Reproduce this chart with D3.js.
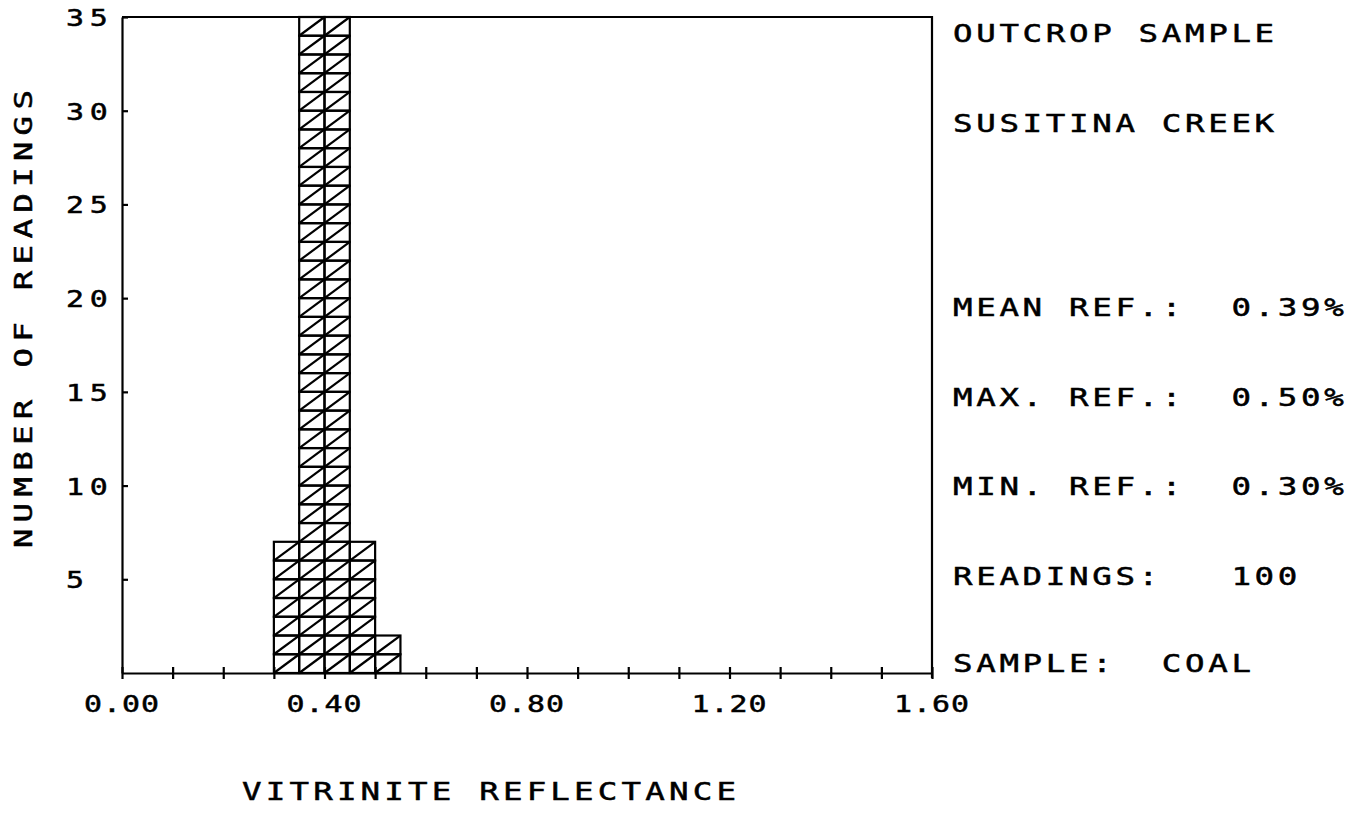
<!DOCTYPE html>
<html>
<head>
<meta charset="utf-8">
<script src="https://cdn.jsdelivr.net/npm/d3@7"></script>
<style>
  body { margin: 0; background: #fff; }
  text { font-family: 'DejaVu Sans Mono', 'Liberation Mono', monospace; fill: #000; stroke: #000; stroke-width: 0.5; white-space: pre; }
  .axis path, .axis line { stroke: #000; stroke-width: 2.2; }
</style>
</head>
<body>
<div id="chart"></div>
<script>
// histogram bins (reflectance %, bin start) and number of readings per bin
const binStarts = [0.30, 0.35, 0.40, 0.45, 0.50];
const binCounts = [7, 46, 38, 7, 2];
const binWidth = 0.05;

const yTicks = [5, 10, 15, 20, 25, 30, 35];
const xTicks = [0.0, 0.1, 0.2, 0.3, 0.4, 0.5, 0.6, 0.7, 0.8, 0.9, 1.0, 1.1, 1.2, 1.3, 1.4, 1.5, 1.6];
const xLabelTicks = [0.0, 0.4, 0.8, 1.2, 1.6];

const infoLines = [
  'OUTCROP SAMPLE',
  'SUSITINA CREEK',
  'MEAN REF.:  0.39%',
  'MAX. REF.:  0.50%',
  'MIN. REF.:  0.30%',
  'READINGS:   100',
  'SAMPLE:  COAL',
];

const width = 1356;
const height = 817;
const yMax = 35;
const infoX = 953;
const infoBaselines = [42, 132, 316, 406, 495, 585, 672];

const svg = d3.select('#chart')
  .append('svg')
  .attr('width', width)
  .attr('height', height);

svg.append('rect').attr('width', width).attr('height', height).attr('fill', '#fff');

const x = d3.scaleLinear().domain([0, 1.6]).range([122, 932]);
const y = d3.scaleLinear().domain([0, yMax]).range([673, 17]);

// plotter-style lettering: widened monospace glyphs on a fixed pitch
function plotText(parent, str, px, py, opts) {
  const o = Object.assign({ size: 25, sx: 1.3, ls: 2.8, anchor: 'start', rotate: 0 }, opts);
  return parent.append('text')
    .attr('xml:space', 'preserve')
    .attr('transform', `translate(${px},${py}) rotate(${o.rotate}) scale(${o.sx},1)`)
    .attr('text-anchor', o.anchor)
    .style('font-size', `${o.size}px`)
    .style('letter-spacing', `${o.ls}px`)
    .text(str);
}

// histogram cells: one box with a diagonal per reading, clipped at the top of the frame
const cells = [];
binStarts.forEach((b, i) => {
  const n = Math.min(binCounts[i], yMax);
  for (let k = 0; k < n; k += 1) cells.push({ x0: b, x1: b + binWidth, k });
});

const hist = svg.append('g')
  .attr('fill', 'none')
  .attr('stroke', '#000')
  .attr('stroke-width', 2.2);

hist.selectAll('rect')
  .data(cells)
  .enter()
  .append('rect')
  .attr('x', d => x(d.x0))
  .attr('y', d => y(d.k + 1))
  .attr('width', d => x(d.x1) - x(d.x0))
  .attr('height', d => y(d.k) - y(d.k + 1));

hist.selectAll('line')
  .data(cells)
  .enter()
  .append('line')
  .attr('x1', d => x(d.x0))
  .attr('y1', d => y(d.k))
  .attr('x2', d => x(d.x1))
  .attr('y2', d => y(d.k + 1));

// frame (top and right)
svg.append('path')
  .attr('d', `M${x(0)},${y(yMax)}H${x(1.6)}V${y(0) + 5}`)
  .attr('fill', 'none')
  .attr('stroke', '#000')
  .attr('stroke-width', 2.2);

// axes
svg.append('g')
  .attr('class', 'axis')
  .attr('transform', `translate(${x(0)},0)`)
  .call(d3.axisLeft(y).tickValues(yTicks).tickSizeInner(-6).tickSizeOuter(0).tickFormat(''));

svg.append('g')
  .attr('class', 'axis')
  .attr('transform', `translate(0,${y(0)})`)
  .call(d3.axisBottom(x).tickValues(xTicks).tickSizeInner(6).tickSizeOuter(0).tickFormat(''));

svg.append('g')
  .attr('class', 'axis')
  .attr('transform', `translate(0,${y(0)})`)
  .call(d3.axisTop(x).tickValues(xTicks).tickSizeInner(6).tickSizeOuter(0).tickFormat(''))
  .select('.domain').remove();

// tick labels
yTicks.forEach(v => plotText(svg, String(v), 66, y(v) + 9, { size: 23, ls: 4.5 }));
xLabelTicks.forEach(v => plotText(svg, v.toFixed(2), x(v), 712, { size: 23, ls: 0.8, anchor: 'middle' }));

// axis titles
plotText(svg, 'VITRINITE REFLECTANCE', 242, 800, { ls: 3.2 });
plotText(svg, 'NUMBER OF READINGS', 32, 316, { rotate: -90, anchor: 'middle', ls: 4.8 });

// sample information
infoLines.forEach((s, i) => plotText(svg, s, infoX, infoBaselines[i]));
</script>
</body>
</html>
